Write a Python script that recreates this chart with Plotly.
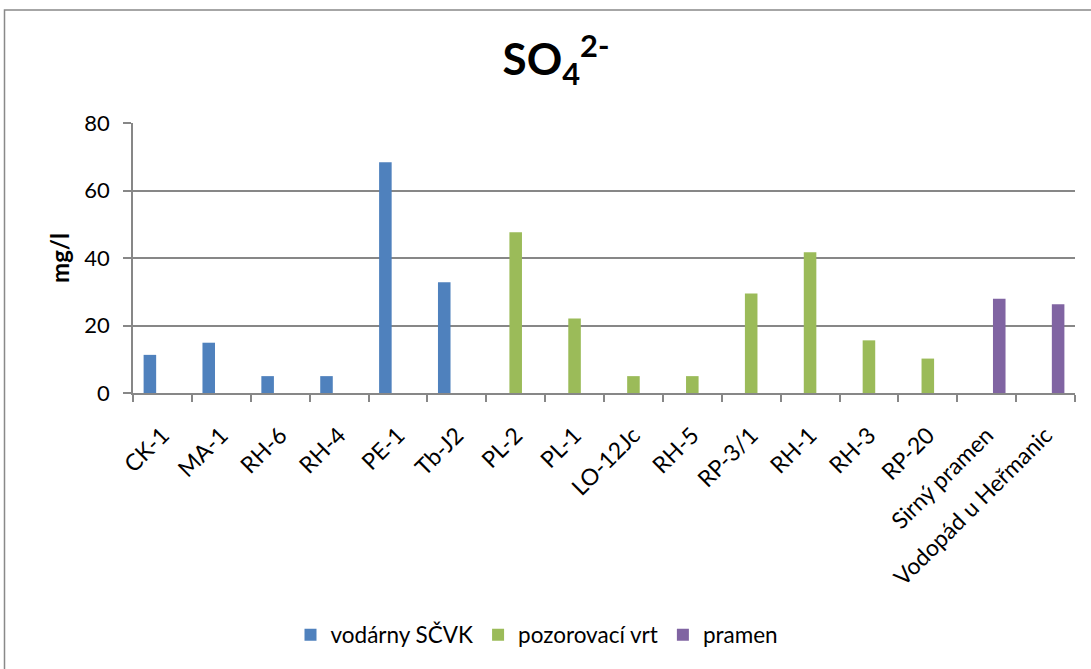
import plotly.graph_objects as go

# Sampling sites along the x axis
sites = ["CK-1", "MA-1", "RH-6", "RH-4", "PE-1", "Tb-J2", "PL-2", "PL-1",
         "LO-12Jc", "RH-5", "RP-3/1", "RH-1", "RH-3", "RP-20",
         "Sirný pramen", "Vodopád u Heřmanic"]

# Sulphate concentration (mg/l) per source type; None where the site is of another type
vodarny_scvk = [11.3, 14.9, 5.0, 5.0, 68.4, 32.8, None, None,
                None, None, None, None, None, None, None, None]
pozorovaci_vrt = [None, None, None, None, None, None, 47.6, 22.1,
                  5.0, 5.0, 29.5, 41.7, 15.6, 10.2, None, None]
pramen = [None, None, None, None, None, None, None, None,
          None, None, None, None, None, None, 27.9, 26.3]

series = [
    ("vodárny SČVK", vodarny_scvk, "#4F81BD"),
    ("pozorovací vrt", pozorovaci_vrt, "#9BBB59"),
    ("pramen", pramen, "#8064A2"),
]

FONT = "Lato, sans-serif"
GRID = "#878787"

fig = go.Figure()
for name, vals, color in series:
    fig.add_trace(go.Bar(x=sites, y=vals, name=name, marker_color=color,
                         marker_line_width=0))

# Plot area geometry in pixels (used for the outer frame)
W, H = 1091, 669
L, R, T, B = 133, 16, 123, 276
pw, ph = W - L - R, H - T - B

def px_x(p):
    return (p - L) / pw

def px_y(p):
    return (H - B - p) / ph

fig.add_shape(type="rect", xref="paper", yref="paper",
              x0=px_x(4.5), x1=px_x(1200), y0=px_y(10), y1=px_y(800),
              line=dict(color="#898989", width=1.5), fillcolor="rgba(0,0,0,0)",
              layer="below")

fig.update_layout(
    width=W, height=H,
    margin=dict(l=L, r=R, t=T, b=B),
    paper_bgcolor="white", plot_bgcolor="white",
    font=dict(family=FONT, color="black"),
    barmode="group", bargap=0.36, bargroupgap=0,
    title=dict(text="<b>SO<sub>4</sub><sup>2-</sup></b>", x=556 / W, xanchor="center",
               y=1 - 60 / H, yanchor="middle", font=dict(size=44, family=FONT)),
    xaxis=dict(type="category", tickangle=-45, tickfont=dict(size=23),
               showline=True, linecolor=GRID, linewidth=1.5,
               ticks="outside", tickson="boundaries", ticklen=7,
               tickcolor=GRID, tickwidth=1.5, showgrid=False,
               ticklabelstandoff=18),
    yaxis=dict(range=[0, 80], dtick=20, tickfont=dict(size=22),
               showgrid=True, gridcolor=GRID, gridwidth=1.5,
               showline=True, linecolor=GRID, linewidth=1.5,
               ticks="outside", ticklen=8, tickcolor=GRID, tickwidth=1.5,
               zeroline=False, ticklabelstandoff=9,
               title=dict(text="<b>mg/l</b>", font=dict(size=24), standoff=8)),
    legend=dict(orientation="h", x=px_x(537), xanchor="center",
                y=px_y(635), yanchor="middle", font=dict(size=22.5),
                itemwidth=30),
    showlegend=True,
)

fig.write_html("out.html")
